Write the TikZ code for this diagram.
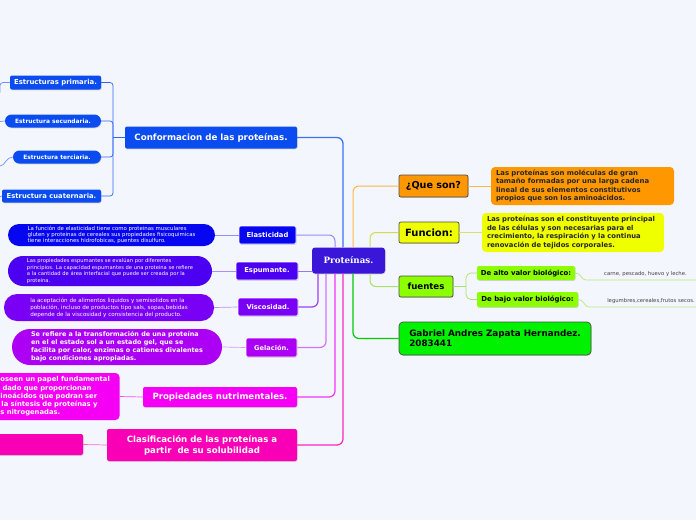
\documentclass[tikz,border=0pt]{standalone}
\usepackage{fontspec}
\setmainfont{DejaVu Sans}
\newfontfamily\titlefont{DejaVu Serif}
\usetikzlibrary{shadows}
\usepackage{xcolor}

\definecolor{bgcol}{RGB}{244,246,253}
\definecolor{cenblue}{RGB}{58,22,216}
\definecolor{confblue}{RGB}{10,76,240}
\definecolor{elablue}{RGB}{6,6,240}
\definecolor{espviolet}{RGB}{76,0,242}
\definecolor{visviolet}{RGB}{122,0,245}
\definecolor{gelviolet}{RGB}{172,0,245}
\definecolor{propmag}{RGB}{245,0,245}
\definecolor{clapink}{RGB}{250,0,182}
\definecolor{queorange}{RGB}{255,152,0}
\definecolor{funyellow}{RGB}{240,255,0}
\definecolor{fuegreen}{RGB}{140,255,0}
\definecolor{gabgreen}{RGB}{0,242,0}

\begin{document}
\begin{tikzpicture}[x=1pt,y=-1pt]
    \tikzstyle{topic} = [rectangle, rounded corners=2pt, text=white, inner sep=0pt,
               align=center,
               drop shadow={shadow xshift=0.6pt, shadow yshift=-0.8pt, opacity=0.3}]
    \tikzstyle{leaf} = [topic, draw=white, line width=0.6pt]
    \tikzstyle{desc} = [rectangle, text=white, inner sep=0pt, align=left]
    \tikzstyle{rdesc} = [desc, text=black!85, rounded corners=4pt, inner xsep=5pt]
    \tikzstyle{rtopic} = [topic, draw=black!70, line width=0.7pt, text=black]
    \tikzstyle{link} = [draw, line width=1pt, rounded corners=6pt]
    \tikzstyle{thin} = [draw, line width=0.7pt, rounded corners=3pt]

    \useasboundingbox[fill=bgcol] (0,0) rectangle (696,520);

    % Central topic
    \node[topic, fill=cenblue, minimum width=73, minimum height=26, rounded corners=3pt,
      font=\titlefont\bfseries\fontsize{8.7}{10}\selectfont] (prot) at (348.5,260.5) {Proteínas.};

    % Conformacion and its structures
    \node[topic, fill=confblue, minimum width=172, minimum height=22,
      font=\bfseries\fontsize{8.7}{10}\selectfont] (conf) at (211,137.5) {Conformacion de las proteínas.};
    \node[topic, fill=confblue, minimum width=91, minimum height=14,
      font=\bfseries\fontsize{6.9}{8}\selectfont] (prim) at (55.5,82.5) {Estructuras primaria.};
    \node[topic, fill=confblue, minimum width=96, minimum height=13, rounded corners=6.5pt,
      font=\bfseries\fontsize{5.9}{7}\selectfont] (sec) at (53,121) {Estructura secundaria.};
    \node[topic, fill=confblue, minimum width=88, minimum height=13, rounded corners=6.5pt,
      font=\bfseries\fontsize{5.9}{7}\selectfont] (ter) at (57,157) {Estructura terciaria.};
    \node[topic, fill=confblue, minimum width=99, minimum height=13,
      font=\bfseries\fontsize{6.8}{8}\selectfont] (cuat) at (51.5,196) {Estructura cuaternaria.};

    % Properties on the left
    \node[leaf, fill=elablue, minimum width=57, minimum height=18,
      font=\bfseries\fontsize{6.8}{8}\selectfont] (ela) at (267.5,235) {Elasticidad};
    \node[desc, fill=elablue, minimum width=207, minimum height=22, rounded corners=11pt,
      font=\fontsize{5.4}{6.2}\selectfont] (elad) at (111.5,235)
      {La función de elasticidad tiene como proteinas musculares\\
       gluten y proteinas de cereales sus propiedades fisicoquimicas\\
       tiene interacciones hidrofobicas, puentes disulfuro.};

    \node[leaf, fill=espviolet, minimum width=62, minimum height=18,
      font=\bfseries\fontsize{6.8}{8}\selectfont] (esp) at (267,271) {Espumante.};
    \node[desc, fill=espviolet, minimum width=204, minimum height=30, rounded corners=15pt,
      font=\fontsize{5.2}{6.5}\selectfont] (espd) at (110,271)
      {Las propiedades espumantes se evalúan por diferentes\\
       principios. La capacidad espumantes de una proteina se refiere\\
       a la cantidad de área interfacial que puede ser creada por la\\
       proteina.};

    \node[leaf, fill=visviolet, minimum width=60, minimum height=18,
      font=\bfseries\fontsize{6.7}{8}\selectfont] (vis) at (268,307) {Viscosidad.};
    \node[desc, fill=visviolet, minimum width=210, minimum height=27, rounded corners=13pt,
      font=\fontsize{5.6}{7}\selectfont] (visd) at (109,307.5)
      {la aceptación de alimentos liquidos y semisolidos en la\\
       población, incluso de productos tipo sals, sopas,bebidas\\
       depende de la viscosidad y consistencia del producto.};

    \node[leaf, fill=gelviolet, minimum width=51, minimum height=19,
      font=\bfseries\fontsize{6.6}{8}\selectfont] (gel) at (271.5,347.5) {Gelación.};
    \node[desc, fill=gelviolet, minimum width=210, minimum height=36, rounded corners=18pt,
      font=\bfseries\fontsize{6.4}{8}\selectfont] (geld) at (117,347)
      {Se refiere a la transformación de una proteína\\
       en el el estado sol a un estado gel, que se\\
       facilita por calor, enzimas o cationes divalentes\\
       bajo condiciones apropiadas.};

    \node[topic, fill=propmag, minimum width=154, minimum height=20,
      font=\bfseries\fontsize{8.6}{10}\selectfont] (prop) at (220,397) {Propiedades nutrimentales.};
    \node[desc, fill=propmag, minimum width=128, minimum height=47, rounded corners=4pt,
      text width=110, font=\bfseries\fontsize{6.8}{8.3}\selectfont] (propd) at (55.5,396.5)
      {oseen un papel fundamental\\
       \hspace*{2pt}dado que proporcionan\\
       inoácidos que podran ser\\
       \hspace*{1pt}la síntesis de proteínas y\\
       s nitrogenadas.};

    \node[topic, fill=clapink, minimum width=190, minimum height=32,
      font=\bfseries\fontsize{8.6}{11}\selectfont] (clas) at (202,445)
      {Clasificación de las proteínas a\\ partir\ \ de su solubilidad};
    \node[topic, fill=clapink, minimum width=93, minimum height=21] (clasd) at (36.5,444.5) {};

    % Right side
    \node[rtopic, fill=queorange, minimum width=69, minimum height=22,
      font=\bfseries\fontsize{9.6}{10}\selectfont] (que) at (433.5,186) {¿Que son?};
    \node[rdesc, fill=queorange, text width=173, minimum height=38,
      font=\bfseries\fontsize{6.9}{8.5}\selectfont] (qued) at (582.5,186)
      {Las proteínas son moléculas de gran\\
       tamaño formadas por una larga cadena\\
       lineal de sus elementos constitutivos\\
       propios que son los aminoácidos.};

    \node[rtopic, fill=funyellow, minimum width=60, minimum height=21,
      font=\bfseries\fontsize{10}{10}\selectfont] (fun) at (429,232.5) {Funcion:};
    \node[rdesc, fill=funyellow, text width=172, minimum height=39,
      font=\bfseries\fontsize{6.8}{8.4}\selectfont] (fund) at (573,232.5)
      {Las proteínas son el constituyente principal\\
       de las células y son necesarias para el\\
       crecimiento, la respiración y la continua\\
       renovación de tejidos corporales.};

    \node[rtopic, fill=fuegreen, minimum width=54, minimum height=21,
      font=\bfseries\fontsize{8.6}{10}\selectfont] (fue) at (426,286.5) {fuentes};
    \node[topic, fill=fuegreen, text=black, minimum width=98, minimum height=14,
      font=\bfseries\fontsize{6.9}{8}\selectfont] (alto) at (526,273) {De alto valor biológico:};
    \node[topic, fill=fuegreen, text=black, minimum width=101, minimum height=15,
      font=\bfseries\fontsize{6.9}{8}\selectfont] (bajo) at (527.5,299.5) {De bajo valor biológico:};
    \node[text=black!75, inner sep=0pt, font=\fontsize{5.3}{6}\selectfont] (carne) at (645.5,274)
      {carne, pescado, huevo y leche.};
    \node[text=black!75, inner sep=0pt, font=\fontsize{5.3}{6}\selectfont] (legum) at (651,301)
      {legumbres,cereales,frutos secos.};

    \node[rtopic, fill=gabgreen, minimum width=192, minimum height=33, rounded corners=4pt, align=left,
      font=\bfseries\fontsize{8.8}{10}\selectfont] (gab) at (495,338.5)
      {Gabriel Andres Zapata Hernandez.\\ 2083441};

    % Free ends at the left and right edges
    \coordinate (primout) at (0,82.5);
    \coordinate (secout) at (0,121.5);
    \coordinate (terout) at (0,166);
    \coordinate (cuatout) at (0,197);
    \coordinate (altoend) at (696,280);
    \coordinate (bajoend) at (696,307);
    \coordinate (estrjoin) at (113,137.5);
    \coordinate (fuejoin) at (466,286.5);

    % Connectors to the central topic
    \draw[link, color=confblue!80!white, line width=1.3pt] (conf.east) -| ([xshift=-5.5pt]prot.north);
    \draw[link, color=elablue!45!white] (ela.east) -| ([xshift=-13.5pt]prot.north);
    \draw[link, color=espviolet!55!white] (esp.east) -- (esp.east -| prot.west);
    \draw[link, color=visviolet!75!white, line width=1.2pt] ([xshift=-30.5pt]prot.south) |- (vis.east);
    \draw[link, color=gelviolet!55!white, line width=1.2pt] ([xshift=-22.5pt]prot.south) |- (gel.east);
    \draw[link, color=propmag!80!white, line width=1.2pt] ([xshift=-13.5pt]prot.south) |- (prop.east);
    \draw[link, color=clapink!85!white, line width=1.2pt] ([xshift=-5.5pt]prot.south) |- (clas.east);
    \draw[link, color=queorange!70!white] ([xshift=4.5pt]prot.north) |- (que.west);
    \draw[link, color=funyellow!80!black!70!white] ([xshift=21.5pt]prot.north) |- (fun.west);
    \draw[link, color=fuegreen!80!black!60!white] ([xshift=21.5pt]prot.south) |- (fue.west);
    \draw[link, color=gabgreen!85!black, line width=1.2pt] ([xshift=4.5pt]prot.south) |- (gab.west);

    % Structures bracket
    \draw[thin, color=confblue!85!white] (prim.east) -| (estrjoin) |- (cuat.east);
    \draw[thin, color=confblue!85!white] (sec.east) -| (estrjoin);
    \draw[thin, color=confblue!85!white] (ter.east) -| (estrjoin);
    \draw[thin, color=confblue!85!white, line width=1pt] (estrjoin) -- (conf.west);
    \draw[thin, color=confblue!60!white] (prim.west) -- (primout) -- ++(0,10);
    \draw[thin, color=confblue!60!white] (sec.west) -- (secout);
    \draw[thin, color=confblue!60!white] (ter.west) .. controls (6,157) and (5,166) .. (terout);
    \draw[thin, color=confblue!60!white] (cuat.west) -- (cuatout);

    % Descriptions
    \draw[thin, color=elablue!45!white] (elad.east) -- (ela.west);
    \draw[thin, color=espviolet!45!white] (espd.east) -- (esp.west);
    \draw[thin, color=visviolet!45!white] (visd.east) -- (vis.west);
    \draw[thin, color=gelviolet!40!white] (geld.east) -- (gel.west);
    \draw[thin, color=propmag!70!white] (propd.east) -- (prop.west);
    \draw[thin, color=clapink!60!white] (clasd.east) -- (clas.west);
    \draw[thin, color=queorange!70!white] (que.east) -- (qued.west);
    \draw[thin, color=funyellow!80!black!60!white] (fun.east) -- (fund.west);

    % fuentes
    \draw[thin, color=fuegreen!80!black!60!white, rounded corners=5pt] (alto.west) -| (fuejoin) |- (bajo.west);
    \draw[thin, color=fuegreen!80!black!60!white] (fue.east) -- (fuejoin);
    \draw[thin, color=fuegreen!80!black!50!white] (alto.east) .. controls (582,273) and (580,280) .. (590,280) -- (altoend);
    \draw[thin, color=fuegreen!80!black!50!white] (bajo.east) .. controls (585,299.5) and (583,307) .. (593,307) -- (bajoend);

  \end{tikzpicture}
\end{document}
